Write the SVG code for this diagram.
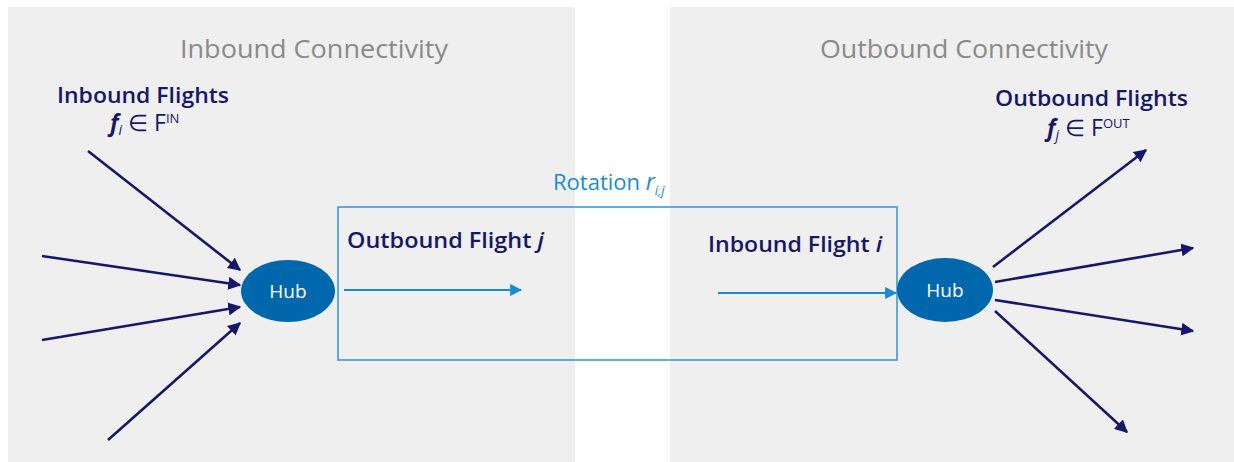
<svg xmlns="http://www.w3.org/2000/svg" width="1234" height="462" viewBox="0 0 1234 462">
<defs>
<style>
.panel{fill:#efefef}
.title{font-family:"Open Sans","Liberation Sans",sans-serif;font-size:25px;fill:#8a8a8a}
.navy{font-family:"Open Sans","Liberation Sans",sans-serif;fill:#17176a}
.lbl{font-size:21px;font-weight:600}
.blue{font-family:"Open Sans","Liberation Sans",sans-serif;fill:#1a8ad4;font-size:22px}
.hub{fill:#0067ac}
.hubt{font-family:"Open Sans","Liberation Sans",sans-serif;font-size:19px;fill:#ffffff;text-anchor:middle}
.nav{stroke:#17176a;stroke-width:2.6;fill:none;marker-end:url(#an)}
.bl{stroke:#1a8ad4;stroke-width:2.2;fill:none;marker-end:url(#ab)}
</style>
<marker id="an" viewBox="0 0 10 10" refX="9" refY="5" markerWidth="5" markerHeight="5" orient="auto" markerUnits="strokeWidth"><path d="M0,0 L10,5 L0,10 Z" fill="#17176a"/></marker>
<marker id="ab" viewBox="0 0 10 10" refX="9" refY="5" markerWidth="5.5" markerHeight="5.5" orient="auto" markerUnits="strokeWidth"><path d="M0,0 L10,5 L0,10 Z" fill="#1a8ad4"/></marker>
</defs>
<rect width="1234" height="462" fill="#ffffff"/>
<rect class="panel" x="8" y="7" width="567" height="455"/>
<rect class="panel" x="670" y="7" width="564" height="455"/>
<text class="title" x="180" y="58" textLength="268" lengthAdjust="spacingAndGlyphs">Inbound Connectivity</text>
<text class="title" x="820" y="58" textLength="288" lengthAdjust="spacingAndGlyphs">Outbound Connectivity</text>

<g id="inbound-label">
<text class="navy lbl" x="57" y="103" textLength="172" lengthAdjust="spacingAndGlyphs">Inbound Flights</text>
<text class="navy" x="110" y="131" font-size="23"><tspan font-style="italic" font-weight="bold">f</tspan><tspan font-style="italic" font-size="14" dy="4">i</tspan><tspan dy="-4"> ∈ F</tspan><tspan font-size="13" dy="-8">IN</tspan></text>
</g>
<g id="outbound-label">
<text class="navy lbl" x="995" y="106" textLength="193" lengthAdjust="spacingAndGlyphs">Outbound Flights</text>
<text class="navy" x="1047" y="136" font-size="23"><tspan font-style="italic" font-weight="bold">f</tspan><tspan font-style="italic" font-size="14" dy="4">j</tspan><tspan dy="-4"> ∈ F</tspan><tspan font-size="13" dy="-8">OUT</tspan></text>
</g>

<g id="rotation">
<rect x="338" y="207" width="559" height="153" fill="none" stroke="#3a9ad9" stroke-width="1.6"/>
<text class="blue" x="553" y="190">Rotation <tspan font-style="italic" font-size="23">r</tspan><tspan font-style="italic" font-size="13" dy="5">i,j</tspan></text>
<text class="navy lbl" x="347" y="248" textLength="197" lengthAdjust="spacingAndGlyphs">Outbound Flight <tspan font-style="italic">j</tspan></text>
<text class="navy lbl" x="708" y="252" textLength="174" lengthAdjust="spacingAndGlyphs">Inbound Flight <tspan font-style="italic">i</tspan></text>
</g>

<g id="hub-left">
<ellipse class="hub" cx="288" cy="291" rx="47" ry="31"/>
<text class="hubt" x="288" y="298">Hub</text>
</g>
<g id="hub-right">
<ellipse class="hub" cx="945" cy="290" rx="48" ry="32"/>
<text class="hubt" x="945" y="297">Hub</text>
</g>

<g id="connectors">
<line class="nav" x1="88" y1="151" x2="240" y2="270"/>
<line class="nav" x1="42" y1="256" x2="240" y2="285"/>
<line class="nav" x1="42" y1="340" x2="240" y2="307"/>
<line class="nav" x1="108" y1="440" x2="240" y2="323"/>
<line class="nav" x1="993" y1="267" x2="1146" y2="150"/>
<line class="nav" x1="995" y1="282" x2="1193" y2="248"/>
<line class="nav" x1="995" y1="300" x2="1193" y2="331"/>
<line class="nav" x1="995" y1="311" x2="1127" y2="432"/>
<line class="bl" x1="344" y1="290" x2="521" y2="290"/>
<line class="bl" x1="718" y1="293" x2="896" y2="293"/>
</g>
</svg>
